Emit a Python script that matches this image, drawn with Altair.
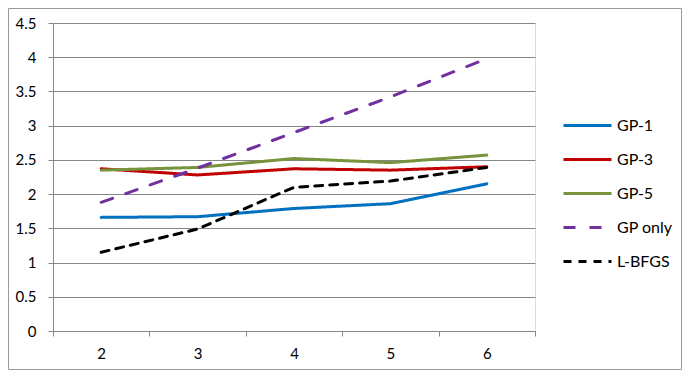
import altair as alt
import pandas as pd

x_vals = ["2", "3", "4", "5", "6"]
series_names = ["GP-1", "GP-3", "GP-5", "GP only", "L-BFGS"]
gp1 = [1.66, 1.67, 1.79, 1.86, 2.15]
gp3 = [2.37, 2.28, 2.37, 2.35, 2.40]
gp5 = [2.35, 2.39, 2.52, 2.46, 2.57]
gp_only = [1.88, 2.38, 2.90, 3.42, 3.98]
lbfgs = [1.15, 1.49, 2.10, 2.19, 2.39]
colors = ["#0070C0", "#C00000", "#77933C", "#7030A0", "#000000"]
dashes = [[1, 0], [1, 0], [1, 0], [12, 14], [8, 7]]

rows = []
for i, (name, vals) in enumerate(zip(series_names, [gp1, gp3, gp5, gp_only, lbfgs])):
    for xv, v in zip(x_vals, vals):
        rows.append({"x": xv, "value": v, "series": name, "ord": i})
df = pd.DataFrame(rows)

FONT = "Lato"
GRID = "#868686"

lines = alt.Chart(df).mark_line(strokeWidth=3, strokeCap="round", strokeJoin="round").encode(
    x=alt.X("x:O", sort=x_vals,
            scale=alt.Scale(type="band", paddingInner=0, paddingOuter=0),
            axis=alt.Axis(title=None, labelAngle=0, tickBand="extent", tickSize=5,
                          tickColor=GRID, domainColor=GRID, labelPadding=10,
                          labelFont=FONT, labelFontSize=15, labelColor="#000000", grid=False)),
    y=alt.Y("value:Q",
            scale=alt.Scale(domain=[0, 4.5], nice=False, zero=True),
            axis=alt.Axis(title=None, values=[0, 0.5, 1, 1.5, 2, 2.5, 3, 3.5, 4, 4.5],
                          labelExpr="'' + datum.value", tickSize=5, tickColor=GRID,
                          domainColor=GRID, gridColor=GRID, gridOpacity=1, labelPadding=12,
                          labelFont=FONT, labelFontSize=15, labelColor="#000000")),
    color=alt.Color("series:N", scale=alt.Scale(domain=series_names, range=colors),
                    legend=alt.Legend(title=None, orient="none", legendX=509, legendY=77,
                                      symbolType="stroke", symbolSize=2304,
                                      symbolStrokeWidth=3, labelFont=FONT, labelFontSize=16,
                                      labelColor="#000000", labelOffset=4, rowPadding=-3)),
    strokeDash=alt.StrokeDash("series:N", scale=alt.Scale(domain=series_names, range=dashes),
                              legend=None),
    order=alt.Order("ord:Q"),
    detail="series:N",
)

border = alt.Chart(pd.DataFrame({"b": [0]})).mark_rect(
    fill=None, stroke="#9a9a9a", strokeWidth=1
).encode(
    x=alt.value(-44.5), x2=alt.value(628.5), y=alt.value(-14.5), y2=alt.value(346.5)
)

chart = alt.layer(border, lines).properties(
    width=482, height=308,
    autosize=alt.AutoSizeParams(type="none"),
    padding={"left": 45, "top": 15, "right": 147, "bottom": 39},
).configure_view(stroke=None).configure(background="white")

chart.save("out.html", embed_options={"renderer": "svg", "actions": False})
